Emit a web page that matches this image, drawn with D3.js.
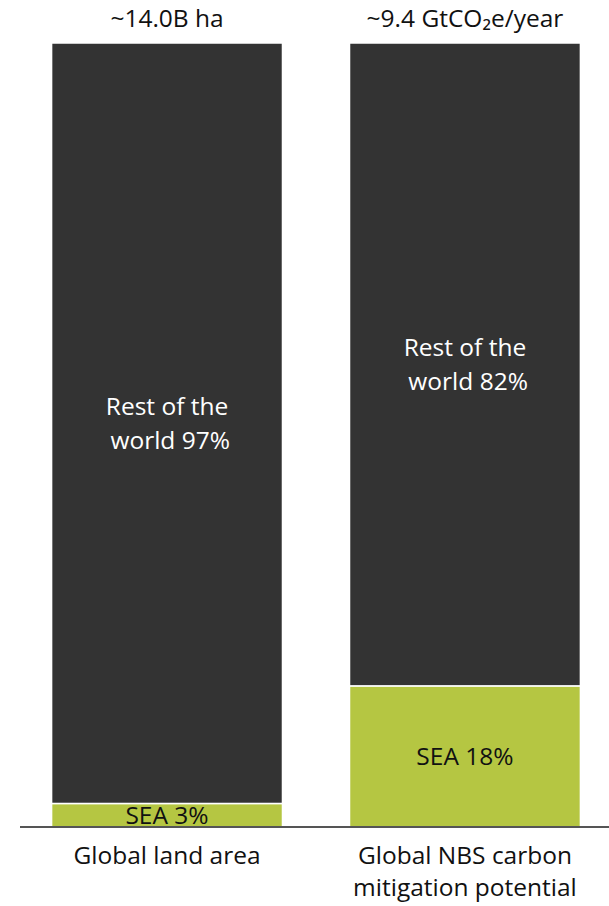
<!DOCTYPE html>
<html><head><meta charset="utf-8">
<script src="https://cdn.jsdelivr.net/npm/d3@7"></script>
<style>body{margin:0;background:#fff}svg{display:block}text{font-family:"Open Sans","Noto Sans",sans-serif}</style>
</head><body>
<script>
const categories = ["Global land area", "Global NBS carbon mitigation potential"];
const categoryLines = [["Global land area"], ["Global NBS carbon", "mitigation potential"]];
const totals = ["~14.0B ha", "~9.4 GtCO₂e/year"];
const seaValues = [3, 18];
const restValues = [97, 82];
const seriesNames = ["SEA", "Rest of the world"];

const W = 609, H = 906, FS = 24.5;
const svg = d3.select("body").append("svg").attr("width", W).attr("height", H);
const x = d3.scaleBand().domain(categories).range([20, 612]).paddingInner(0.225).paddingOuter(0.106);
const y = d3.scaleLinear().domain([0, 100]).range([827, 43]);
const colors = {"SEA": "#b5c642", "Rest of the world": "#333333"};

const rows = categories.map((c, i) => ({cat: c, "SEA": seaValues[i], "Rest of the world": restValues[i]}));
const stack = d3.stack().keys(seriesNames)(rows);

stack.forEach(layer => {
  svg.append("g").selectAll("rect").data(layer).join("rect")
    .attr("x", d => x(d.data.cat))
    .attr("width", x.bandwidth())
    .attr("y", d => y(d[1]))
    .attr("height", d => y(d[0]) - y(d[1]))
    .attr("fill", colors[layer.key])
    .attr("stroke", "#fff").attr("stroke-width", 1.5);
});

rows.forEach((r, i) => {
  const cx = x(r.cat) + x.bandwidth() / 2;
  const sy = (y(0) + y(r["SEA"])) / 2;
  svg.append("text").attr("x", cx).attr("y", sy).attr("dy", "0.36em")
    .attr("text-anchor", "middle").attr("font-size", FS).attr("fill", "#111")
    .text("SEA " + r["SEA"] + "%");
  const ry = (y(r["SEA"]) + y(100)) / 2;
  const lines = ["Rest of the", " world " + r["Rest of the world"] + "%"];
  lines.forEach((t, k) => {
    svg.append("text").attr("x", cx).attr("y", ry + (k - 0.5) * 34).attr("dy", "0.36em")
      .attr("text-anchor", "middle").attr("font-size", FS).attr("fill", "#fff")
      .attr("xml:space", "preserve").style("white-space", "pre")
      .text(t);
  });
  svg.append("text").attr("x", cx).attr("y", 18).attr("dy", "0.36em")
    .attr("text-anchor", "middle").attr("font-size", FS).attr("fill", "#111")
    .text(totals[i]);
});

svg.append("line").attr("x1", 20).attr("x2", 609).attr("y1", 827).attr("y2", 827)
  .attr("stroke", "#555").attr("stroke-width", 2);
categories.forEach((c, i) => {
  const cx = x(c) + x.bandwidth() / 2;
  categoryLines[i].forEach((t, k) => {
    svg.append("text").attr("x", cx).attr("y", 855 + k * 32).attr("dy", "0.36em")
      .attr("text-anchor", "middle").attr("font-size", FS).attr("fill", "#111").text(t);
  });
});
</script>
</body></html>
